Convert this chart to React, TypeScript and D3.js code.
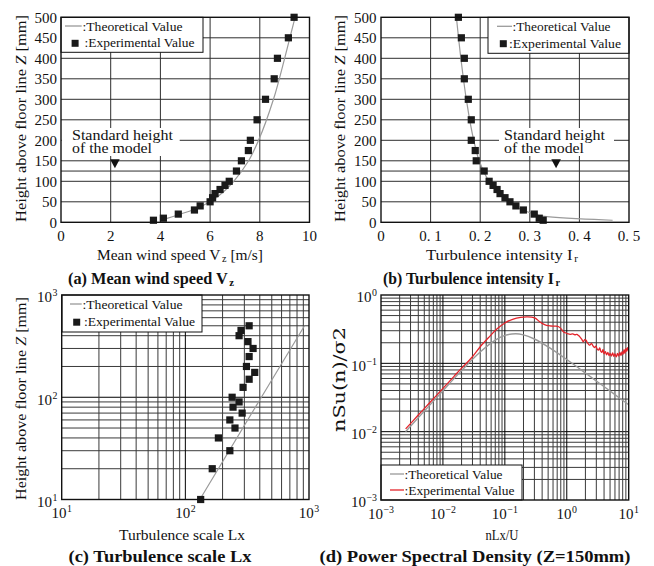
import React, { useEffect, useRef } from "react";
import * as d3 from "d3";

type Sel = d3.Selection<any, unknown, null, undefined>;
type Part = { t: string; sub?: boolean; sup?: boolean; it?: boolean };

const W = 654;
const H = 566;
const FONT = "Liberation Serif, serif";
const INK = "#111";
const GRID = "#2e2e2e";
const THEORY = "#9a9a9a";
const RED = "#e3242b";

// (a) mean wind speed
const heights = [5, 10, 20, 30, 40, 50, 60, 70, 80, 90, 100, 125, 150, 175, 200, 250, 300, 350, 400, 450, 500];
const speedExp = [3.72, 4.12, 4.72, 5.37, 5.6, 6.0, 6.1, 6.2, 6.4, 6.6, 6.77, 7.06, 7.26, 7.54, 7.62, 7.89, 8.23, 8.58, 8.71, 9.15, 9.38];
const speedTheoryZ = [5, 10, 20, 30, 50, 75, 100, 150, 200, 300, 400, 500];
const speedTheory = [4.0, 4.3, 4.8, 5.3, 6.0, 6.55, 6.95, 7.55, 7.95, 8.55, 9.0, 9.42];

// (b) turbulence intensity
const intensityExp = [0.327, 0.319, 0.309, 0.287, 0.272, 0.26, 0.25, 0.24, 0.234, 0.226, 0.218, 0.208, 0.192, 0.19, 0.182, 0.182, 0.176, 0.168, 0.168, 0.162, 0.156];
const intensityTheoryZ = [5, 7, 10, 15, 20, 30, 50, 75, 100, 150, 200, 300, 400, 500];
const intensityTheory = [0.467, 0.43, 0.375, 0.325, 0.31, 0.285, 0.257, 0.235, 0.218, 0.198, 0.187, 0.172, 0.161, 0.152];

// (c) turbulence scale
const scaleZ = [10, 20, 30, 40, 50, 60, 70, 80, 90, 100, 125, 150, 175, 200, 250, 300, 350, 400, 450, 500];
const scaleExp = [133, 165, 229, 185, 252, 229, 288, 243, 272, 239, 293, 328, 364, 312, 328, 353, 321, 272, 282, 328];
const scaleTheoryZ = [10, 100, 500];
const scaleTheory = [131, 412, 920];

// (d) power spectral density
const freqTheory = [0.0025, 0.005, 0.01, 0.02, 0.04, 0.07, 0.1, 0.15, 0.2, 0.3, 0.5, 0.7, 1, 2, 3, 5, 7, 10];
const psdTheory = [0.01, 0.01997, 0.0398, 0.0782, 0.1463, 0.2185, 0.256, 0.2712, 0.2612, 0.2271, 0.1742, 0.1424, 0.1136, 0.0722, 0.0552, 0.0393, 0.0314, 0.0248];
const freqExp = [0.0025, 0.004, 0.006, 0.01, 0.015, 0.02, 0.03, 0.04, 0.055, 0.075, 0.1, 0.137, 0.18, 0.225, 0.27, 0.31, 0.36, 0.4, 0.47, 0.55, 0.65, 0.74, 0.8, 0.88, 0.95, 1.05, 1.13, 1.25, 1.35, 1.45, 1.55, 1.65, 1.75, 1.85, 1.95, 2.05, 2.15, 2.25, 2.37, 2.5, 2.65, 2.8, 2.95, 3.1, 3.25, 3.4, 3.55, 3.7, 3.85, 4.0, 4.2, 4.4, 4.6, 4.8, 5.0, 5.25, 5.5, 5.75, 6.0, 6.3, 6.6, 6.9, 7.2, 7.5, 7.8, 8.1, 8.4, 8.7, 9.0, 9.3, 9.6, 9.9];
const psdExp = [0.011, 0.0175, 0.026, 0.043, 0.064, 0.085, 0.125, 0.175, 0.24, 0.32, 0.39, 0.445, 0.47, 0.478, 0.474, 0.458, 0.41, 0.385, 0.36, 0.352, 0.35, 0.343, 0.325, 0.29, 0.28, 0.27, 0.266, 0.27, 0.262, 0.265, 0.255, 0.24, 0.225, 0.207, 0.222, 0.218, 0.2, 0.19, 0.185, 0.195, 0.18, 0.17, 0.178, 0.162, 0.156, 0.168, 0.15, 0.145, 0.16, 0.138, 0.148, 0.133, 0.145, 0.13, 0.14, 0.128, 0.142, 0.126, 0.138, 0.124, 0.14, 0.128, 0.145, 0.13, 0.148, 0.135, 0.158, 0.14, 0.165, 0.15, 0.17, 0.155];

const zTicks = [0, 50, 100, 150, 200, 250, 300, 350, 400, 450, 500];
const zGrid = [50, 100, 125, 150, 200, 250, 300, 350, 400, 450];
const speedTicks = [0, 2, 4, 6, 8, 10];
const intensityTicks = [0, 0.1, 0.2, 0.3, 0.4, 0.5];
const intensityLabels = ["0", "0. 1", "0. 2", "0. 3", "0. 4", "0. 5"];
const stdHeight = 150;

function label(g: Sel, x: number, y: number, parts: Part[] | string, o: any = {}) {
  const size = o.size ?? 15;
  const t = g
    .append("text")
    .attr("font-family", o.font ?? FONT)
    .attr("font-size", size)
    .attr("text-anchor", o.anchor ?? "middle")
    .attr("font-weight", o.weight ?? "normal")
    .attr("fill", INK);
  if (o.rotate) t.attr("transform", `translate(${x},${y}) rotate(-90)`);
  else t.attr("x", x).attr("y", y);
  if (o.dy) t.attr("dy", o.dy);
  const list: Part[] = typeof parts === "string" ? [{ t: parts }] : parts;
  let shift = 0;
  list.forEach((p) => {
    const s = t.append("tspan").text(p.t);
    let target = 0;
    if (p.sub) {
      target = size * 0.18;
      s.attr("font-size", size * 0.66).attr("dx", 1.5);
    }
    if (p.sup) {
      target = -size * 0.4;
      s.attr("font-size", size * 0.66).attr("dx", 0.5);
    }
    if (p.it) s.attr("font-style", "italic");
    if (target !== shift) {
      s.attr("dy", target - shift);
      shift = target;
    }
  });
  if (o.len) t.attr("textLength", o.len).attr("lengthAdjust", "spacingAndGlyphs");
  return t;
}

function gridLines(g: Sel, x: any, y: any, xs: number[], ys: number[], colorOf?: (v: number) => string) {
  const [x0, x1] = x.range();
  const [y1, y0] = y.range();
  g.append("g")
    .selectAll("line")
    .data(ys)
    .join("line")
    .attr("x1", x0)
    .attr("x2", x1)
    .attr("y1", (d: number) => y(d))
    .attr("y2", (d: number) => y(d))
    .attr("stroke", (d: number) => (colorOf ? colorOf(d) : GRID))
    .attr("stroke-width", 1);
  g.append("g")
    .selectAll("line")
    .data(xs)
    .join("line")
    .attr("y1", y0)
    .attr("y2", y1)
    .attr("x1", (d: number) => x(d))
    .attr("x2", (d: number) => x(d))
    .attr("stroke", (d: number) => (colorOf ? colorOf(d) : GRID))
    .attr("stroke-width", 1);
}

function frame(g: Sel, x: any, y: any) {
  const [x0, x1] = x.range();
  const [y1, y0] = y.range();
  g.append("rect")
    .attr("x", x0)
    .attr("y", y0)
    .attr("width", x1 - x0)
    .attr("height", y1 - y0)
    .attr("fill", "none")
    .attr("stroke", INK)
    .attr("stroke-width", 1.4);
}

function squares(g: Sel, xs: number[], ys: number[], x: any, y: any) {
  g.append("g")
    .selectAll("rect")
    .data(xs)
    .join("rect")
    .attr("x", (d: number) => x(d) - 3.6)
    .attr("y", (_: number, i: number) => y(ys[i]) - 3.6)
    .attr("width", 7.2)
    .attr("height", 7.2)
    .attr("fill", "#1a1a1a");
}

function legendBox(g: Sel, bx: number, by: number, bw: number, bh: number) {
  g.append("rect")
    .attr("x", bx)
    .attr("y", by)
    .attr("width", bw)
    .attr("height", bh)
    .attr("fill", "#fff")
    .attr("stroke", INK)
    .attr("stroke-width", 1);
}

function legendLine(g: Sel, x1: number, x2: number, yy: number, color: string) {
  g.append("line").attr("x1", x1).attr("x2", x2).attr("y1", yy).attr("y2", yy).attr("stroke", color).attr("stroke-width", 1.3);
}

function annotation(g: Sel, rx: number, rw: number, tx: number, cx: number, cy: number) {
  g.append("rect").attr("x", rx).attr("y", 128).attr("width", rw).attr("height", 28).attr("fill", "#fff");
  label(g, tx, 139.5, "Standard height", { anchor: "start", size: 14, len: 101 });
  label(g, tx, 153, "of the model", { anchor: "start", size: 14, len: 80 });
  const p = d3.path();
  p.moveTo(cx - 4.8, cy - 1.5);
  p.lineTo(cx + 4.8, cy - 1.5);
  p.lineTo(cx, cy + 7.5);
  p.closePath();
  g.append("path").attr("d", p.toString()).attr("fill", "#111");
}

function heightLabel(g: Sel, x: number, y: number, len: number) {
  label(g, x, y, [{ t: "Height above floor line " }, { t: "Z", it: true }, { t: " [mm]" }], { rotate: true, size: 15.5, len });
}

function drawSpeed(svg: Sel) {
  const g = svg.append("g");
  const x = d3.scaleLinear().domain([0, 10]).range([61, 309.5]);
  const y = d3.scaleLinear().domain([0, 500]).range([222.3, 17.3]);
  gridLines(g, x, y, [2, 4, 6, 8], zGrid);
  const line = d3
    .line<number>()
    .x((d) => x(d))
    .y((_, i) => y(speedTheoryZ[i]))
    .curve(d3.curveMonotoneY);
  g.append("path").attr("d", line(speedTheory)).attr("fill", "none").attr("stroke", THEORY).attr("stroke-width", 1.2);
  annotation(g, 61.7, 118, 72, x(2.17), y(stdHeight));
  squares(g, speedExp, heights, x, y);
  legendBox(g, 61, 17.3, 142, 35);
  legendLine(g, 65, 81.7, 26, THEORY);
  label(g, 82.5, 30.5, ":Theoretical Value", { anchor: "start", size: 13.4, len: 100 });
  g.append("rect").attr("x", 71.6).attr("y", 39.8).attr("width", 7).attr("height", 7).attr("fill", "#1a1a1a");
  label(g, 84.5, 47, ":Experimental Value", { anchor: "start", size: 13.4, len: 110 });
  frame(g, x, y);
  speedTicks.forEach((t) => label(g, x(t), 240.5, String(t), { size: 15 }));
  zTicks.forEach((t) => label(g, 57, y(t), String(t), { size: 15, anchor: "end", dy: "0.35em" }));
  heightLabel(g, 26, 118.5, 207);
  label(g, 180, 259.5, [{ t: "Mean wind speed V" }, { t: "z", sub: true }, { t: " [m/s]" }], { size: 14.5, len: 166 });
  label(g, 151, 283.5, [{ t: "(a) Mean wind speed V" }, { t: "z", sub: true }], { size: 16.5, weight: "bold", len: 166 });
}

function drawIntensity(svg: Sel) {
  const g = svg.append("g");
  const x = d3.scaleLinear().domain([0, 0.5]).range([381, 629]);
  const y = d3.scaleLinear().domain([0, 500]).range([222.3, 17.3]);
  gridLines(g, x, y, [0.1, 0.2, 0.3, 0.4], zGrid);
  const line = d3
    .line<number>()
    .x((d) => x(d))
    .y((_, i) => y(intensityTheoryZ[i]))
    .curve(d3.curveMonotoneY);
  g.append("path").attr("d", line(intensityTheory)).attr("fill", "none").attr("stroke", THEORY).attr("stroke-width", 1.2);
  annotation(g, 499, 115, 504, x(0.353), y(stdHeight));
  squares(g, intensityExp, heights, x, y);
  legendBox(g, 488, 17.3, 141, 36);
  legendLine(g, 497, 512, 26.3, THEORY);
  label(g, 512.5, 30.5, ":Theoretical Value", { anchor: "start", size: 13.4, len: 98 });
  g.append("rect").attr("x", 499.8).attr("y", 40.2).attr("width", 7).attr("height", 7).attr("fill", "#1a1a1a");
  label(g, 509, 47.5, ":Experimental Value", { anchor: "start", size: 13.4, len: 112 });
  frame(g, x, y);
  intensityTicks.forEach((t, i) => label(g, x(t), 240.5, intensityLabels[i], { size: 15 }));
  zTicks.forEach((t) => label(g, 376.5, y(t), String(t), { size: 15, anchor: "end", dy: "0.35em" }));
  heightLabel(g, 344.5, 118.5, 207);
  label(g, 502, 259.5, [{ t: "Turbulence intensity I" }, { t: "r", sub: true }], { size: 14.5, len: 152 });
  label(g, 471.5, 283.5, [{ t: "(b) Turbulence intensity I" }, { t: "r", sub: true }], { size: 15.8, weight: "bold", len: 177 });
}

const isDecade = (v: number) => Math.abs(Math.log10(v) - Math.round(Math.log10(v))) < 1e-6;
const decadeColor = (v: number) => (isDecade(v) ? "#000" : "#3a3a3a");

function powLabel(g: Sel, x: number, y: number, exp: number, anchor: string, dy?: string) {
  const e = exp < 0 ? "\u2212" + Math.abs(exp) : String(exp);
  label(g, x, y, [{ t: "10" }, { t: e, sup: true }], { size: 15, anchor, dy });
}

function drawScale(svg: Sel) {
  const g = svg.append("g");
  const x = d3.scaleLog().domain([10, 1000]).range([61.7, 309]);
  const y = d3.scaleLog().domain([10, 1000]).range([499.5, 295]);
  const xs = x.ticks().filter((v: number) => v > 10 && v < 1000);
  const ys = y.ticks().filter((v: number) => v > 10 && v < 1000);
  gridLines(g, x, y, xs, ys, decadeColor);
  const line = d3
    .line<number>()
    .x((d) => x(d))
    .y((_, i) => y(scaleTheoryZ[i]));
  g.append("path").attr("d", line(scaleTheory)).attr("fill", "none").attr("stroke", THEORY).attr("stroke-width", 1.2);
  squares(g, scaleExp, scaleZ, x, y);
  legendBox(g, 62, 295, 140, 37);
  legendLine(g, 70, 81.7, 304, THEORY);
  label(g, 82.5, 308.5, ":Theoretical Value", { anchor: "start", size: 13.4, len: 100 });
  g.append("rect").attr("x", 73.2).attr("y", 318.7).attr("width", 7).attr("height", 7).attr("fill", "#1a1a1a");
  label(g, 84, 326, ":Experimental Value", { anchor: "start", size: 13.4, len: 111 });
  frame(g, x, y);
  [1, 2, 3].forEach((e) => powLabel(g, x(10 ** e), 518, e, "middle"));
  [1, 2, 3].forEach((e) => powLabel(g, 57.5, y(10 ** e) + 2, e, "end", "0.35em"));
  heightLabel(g, 26, 398.5, 203);
  label(g, 182, 539.5, "Turbulence scale Lx", { size: 14.5, len: 126 });
  label(g, 160, 562, "(c) Turbulence scale Lx", { size: 16.5, weight: "bold", len: 183 });
}

function drawSpectrum(svg: Sel) {
  const g = svg.append("g");
  const x = d3.scaleLog().domain([1e-3, 10]).range([381, 628.7]);
  const y = d3.scaleLog().domain([1e-3, 1]).range([500, 295]);
  const xs = x.ticks().filter((v: number) => v > 1.0001e-3 && v < 9.999);
  const ys = y.ticks().filter((v: number) => v > 1.0001e-3 && v < 0.9999);
  gridLines(g, x, y, xs, ys, decadeColor);
  const theory = d3
    .line<number>()
    .x((d) => x(d))
    .y((_, i) => y(psdTheory[i]))
    .curve(d3.curveMonotoneX);
  g.append("path").attr("d", theory(freqTheory)).attr("fill", "none").attr("stroke", THEORY).attr("stroke-width", 1.4);
  const exp = d3
    .line<number>()
    .x((d) => x(d))
    .y((_, i) => y(psdExp[i]))
    .curve(d3.curveCatmullRom);
  g.append("path").attr("d", exp(freqExp)).attr("fill", "none").attr("stroke", RED).attr("stroke-width", 1.3);
  legendBox(g, 381, 465, 141, 35);
  legendLine(g, 390, 404, 474, THEORY);
  label(g, 404.5, 478.5, ":Theoretical Value", { anchor: "start", size: 13.4, len: 98 });
  legendLine(g, 390, 404, 490, RED);
  label(g, 404.5, 494.5, ":Experimental Value", { anchor: "start", size: 13.4, len: 110 });
  frame(g, x, y);
  [-3, -2, -1, 0, 1].forEach((e) => powLabel(g, x(10 ** e), 519, e, "middle"));
  [-3, -2, -1, 0].forEach((e) => powLabel(g, 377, y(10 ** e) + 2, e, "end", "0.35em"));
  label(g, 344.5, 379.5, "nSu(n)/\u03c32", { rotate: true, size: 16, len: 105, font: "DejaVu Serif, serif" });
  label(g, 502, 539.5, "nLx/U", { size: 14.5, len: 33 });
  label(g, 475, 562, "(d) Power Spectral Density (Z=150mm)", { size: 16.5, weight: "bold", len: 311 });
}

export default function App() {
  const ref = useRef<SVGSVGElement>(null);

  useEffect(() => {
    const svg = d3.select(ref.current) as Sel;
    svg.selectAll("*").remove();
    svg.append("rect").attr("width", W).attr("height", H).attr("fill", "#fff");
    drawSpeed(svg);
    drawIntensity(svg);
    drawScale(svg);
    drawSpectrum(svg);
  }, []);

  return (
    <svg
      ref={ref}
      width={W}
      height={H}
      style={{ position: "absolute", left: 0, top: 0, display: "block" }}
    />
  );
}
